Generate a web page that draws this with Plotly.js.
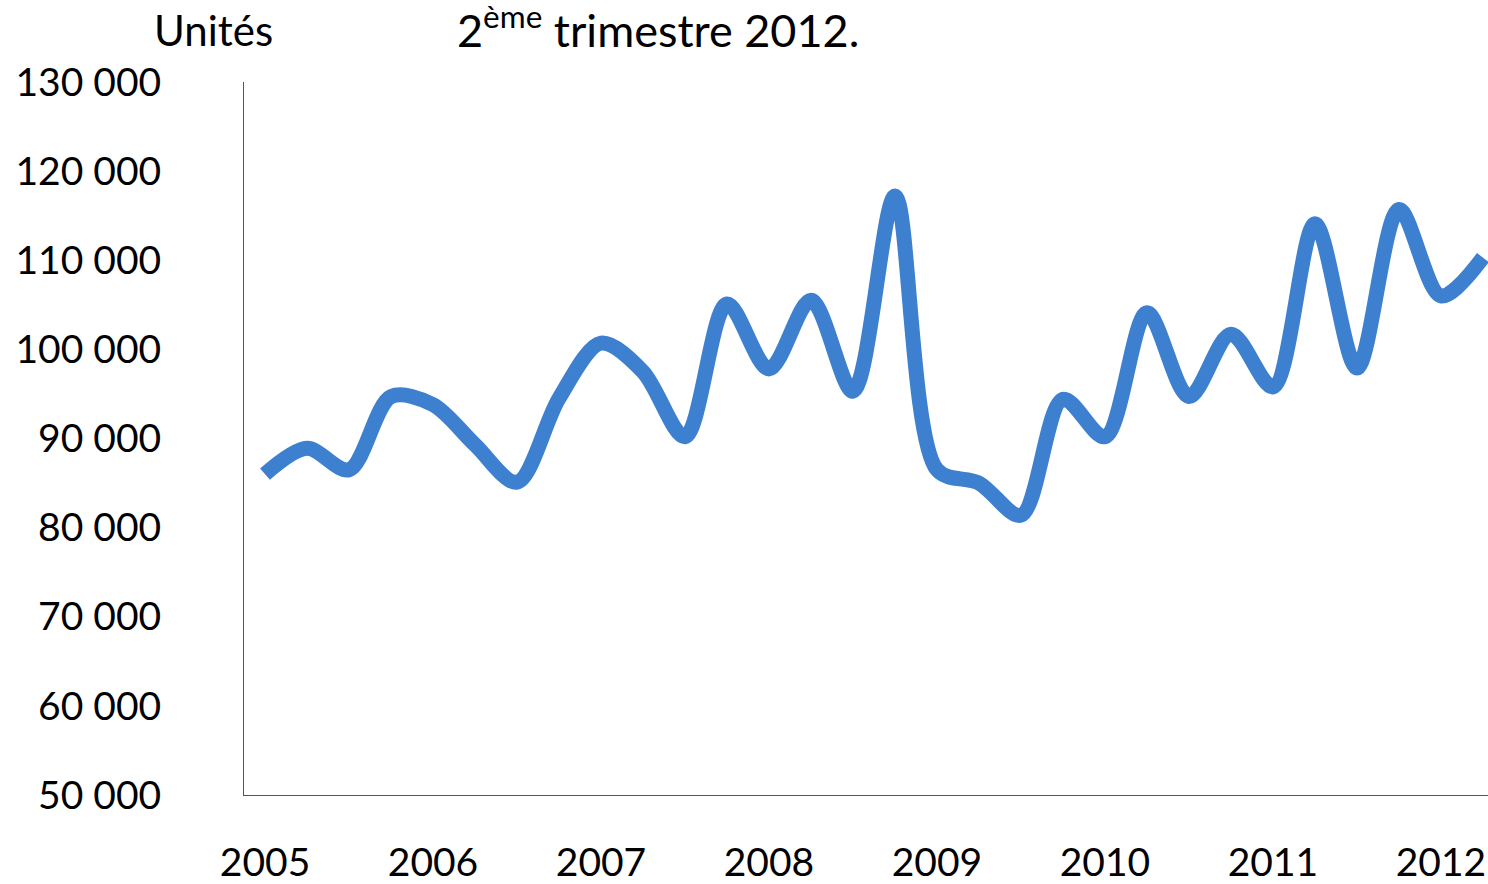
<!DOCTYPE html>
<html>
<head>
<meta charset="utf-8">
<script src="https://cdn.plot.ly/plotly-3.0.1.min.js"></script>
<style>
  html, body {margin: 0; padding: 0; background: #fff;}
  #graph {width: 1488px; height: 884px;}
</style>
</head>
<body>
<div id="graph"></div>
<script>
// quarterly values, 2005 Q1 .. 2012 Q2
var years = ['2005', '2006', '2007', '2008', '2009', '2010', '2011', '2012'];
var quarters = ['T1', 'T2', 'T3', 'T4'];
var values = [
    86000, 88900, 86500, 94700,
    93800, 89300, 85100, 94500,
    100700, 97500, 90200, 105100,
    97800, 105500, 95300, 117200,
    86500, 85000, 81400, 94400,
    90200, 104100, 94700, 101700,
    95800, 114100, 97900, 115700,
    106000, 110300
];
var yTicks = [50000, 60000, 70000, 80000, 90000, 100000, 110000, 120000, 130000];

var idx = values.map(function (v, i) { return i; });
var labels = values.map(function (v, i) {
    return years[Math.floor(i / 4)] + ' ' + quarters[i % 4];
});
var yearPos = years.map(function (y, i) { return i * 4; });

var font = 'Lato, "Open Sans", sans-serif';

var trace = {
    x: idx,
    y: values,
    text: labels,
    mode: 'lines',
    line: {color: '#3E80D0', width: 15, shape: 'spline', smoothing: 0.9},
    hoverinfo: 'text+y',
    showlegend: false
};

var layout = {
    width: 1488,
    height: 884,
    margin: {l: 244, r: 0, t: 82, b: 89},
    paper_bgcolor: '#fff',
    plot_bgcolor: '#fff',
    separators: ', ',
    font: {family: font, size: 39, color: '#000'},
    xaxis: {
        range: [-0.5, 29.12],
        tickvals: yearPos,
        ticktext: years,
        showgrid: false,
        zeroline: false,
        showline: true,
        linecolor: '#555',
        linewidth: 1,
        ticks: '',
        ticklabelstandoff: 33,
        tickfont: {family: font, size: 39, color: '#000'}
    },
    yaxis: {
        range: [50000, 130000],
        tickvals: yTicks,
        tickformat: ',d',
        showgrid: false,
        zeroline: false,
        showline: true,
        linecolor: '#555',
        linewidth: 1,
        ticks: '',
        ticklabelstandoff: 74,
        tickfont: {family: font, size: 39, color: '#000'}
    },
    annotations: [{
        text: 'Unités',
        xref: 'paper', yref: 'paper',
        x: -0.074, y: 1.073,
        xanchor: 'left', yanchor: 'middle',
        showarrow: false,
        font: {family: font, size: 42, color: '#000'}
    }, {
        text: '2<sup>ème</sup> trimestre 2012.',
        xref: 'paper', yref: 'paper',
        x: 0.1696, y: 1.077,
        xanchor: 'left', yanchor: 'middle',
        showarrow: false,
        font: {family: font, size: 45, color: '#000'}
    }]
};

Plotly.newPlot('graph', [trace], layout, {displayModeBar: false, staticPlot: true});
</script>
</body>
</html>
